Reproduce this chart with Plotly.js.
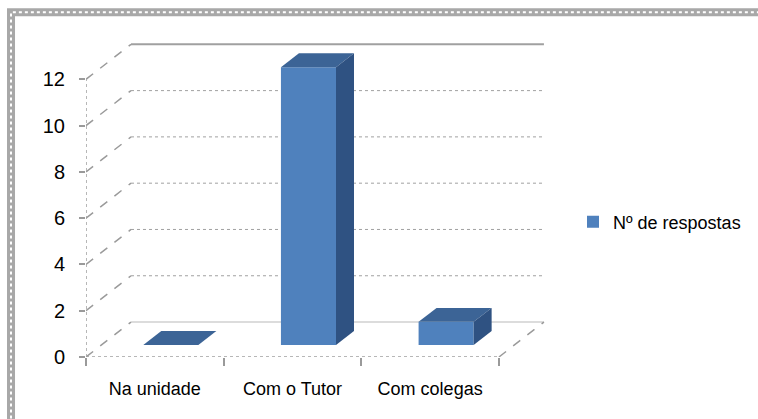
<!DOCTYPE html>
<html>
<head>
<meta charset="utf-8">
<script src="https://cdn.plot.ly/plotly-3.0.1.min.js"></script>
<style>html,body{margin:0;padding:0;background:#fff;}#chart{width:758px;height:419px;}</style>
</head>
<body>
<div id="chart"></div>
<script>
// ---- data ----
const categories = ['Na unidade', 'Com o Tutor', 'Com colegas'];
const values = [0, 12, 1];
const seriesName = 'Nº de respostas';
const yTickVals = [0, 2, 4, 6, 8, 10, 12];

// ---- geometry (pixels) ----
const W = 758, H = 419;
const frontLeftPx = 86, frontRightPx = 499;
const y0Px = 357.5, y12Px = 79.5;
const pxX = (frontRightPx - frontLeftPx) / categories.length;
const pxY = (y0Px - y12Px) / 12;
const xRange = [-0.5, 2.9], yRange = [0, 14];
const plotW = (xRange[1] - xRange[0]) * pxX;
const plotH = (yRange[1] - yRange[0]) * pxY;
const mL = frontLeftPx, mR = W - frontLeftPx - plotW, mB = H - y0Px, mT = H - mB - plotH;

// depth offsets converted to data units
const DX = 45 / pxX, DY = 35 / pxY;       // wall depth
const BX = 16 / pxX, BY = 12 / pxY;       // bar front face shift
const dX = 18 / pxX, dY = 14 / pxY;       // bar depth
const barW = 0.4;

const frontColor = '#4F81BD', topColor = '#3C6496', sideColor = '#2F5282';
const gridColor = '#A0A0A0';

function px2paperX(p) { return (p - mL) / plotW; }
function px2paperY(p) { return (y0Px - p) / plotH; }

const shapes = [];
const xL = -0.5, xR = categories.length - 0.5;
// back wall grid lines
yTickVals.forEach(v => {
  let line;
  if (v === 0) line = {color: '#D0D0D0', width: 1.5};
  else if (v === 12) line = {color: gridColor, width: 2};
  else line = {color: gridColor, width: 1, dash: 'dot'};
  shapes.push({type: 'line', xref: 'x', yref: 'y', layer: 'below',
    x0: xL + DX, x1: xR + DX, y0: v + DY, y1: v + DY, line});
  // left wall diagonals
  shapes.push({type: 'line', xref: 'x', yref: 'y', layer: 'below',
    x0: xL, x1: xL + DX, y0: v, y1: v + DY, line: {color: '#9A9A9A', width: 1.5, dash: 'dash'}});
});
// right floor diagonal
shapes.push({type: 'line', xref: 'x', yref: 'y', layer: 'below',
  x0: xR, x1: xR + DX, y0: 0, y1: DY, line: {color: '#9A9A9A', width: 1.5, dash: 'dash'}});
// front floor edge
shapes.push({type: 'line', xref: 'x', yref: 'y', layer: 'below',
  x0: xL, x1: xR, y0: 0, y1: 0, line: {color: '#A0A0A0', width: 1.5, dash: 'dot'}});
// vertical axis line
shapes.push({type: 'line', xref: 'x', yref: 'y', layer: 'below',
  x0: xL, x1: xL, y0: 0, y1: 12, line: {color: '#A0A0A0', width: 1.5, dash: 'dot'}});

// bar top and side faces
values.forEach((v, i) => {
  const x0 = i - barW / 2 + BX, x1 = i + barW / 2 + BX;
  const b = BY, t = BY + v;
  shapes.push({type: 'path', xref: 'x', yref: 'y', layer: 'above', line: {width: 0},
    fillcolor: topColor,
    path: `M${x0},${t} L${x1},${t} L${x1 + dX},${t + dY} L${x0 + dX},${t + dY} Z`});
  if (v > 0) {
    shapes.push({type: 'path', xref: 'x', yref: 'y', layer: 'above', line: {width: 0},
      fillcolor: sideColor,
      path: `M${x1},${b} L${x1},${t} L${x1 + dX},${t + dY} L${x1 + dX},${b + dY} Z`});
  }
});

// decorative border
const bx0 = px2paperX(11), bx1 = px2paperX(768), by0 = px2paperY(12.5), by1 = px2paperY(430);
shapes.push({type: 'rect', xref: 'paper', yref: 'paper', layer: 'above',
  x0: bx0, x1: bx1, y0: by1, y1: by0, line: {color: '#A8A8A8', width: 8}});
shapes.push({type: 'rect', xref: 'paper', yref: 'paper', layer: 'above',
  x0: bx0, x1: bx1, y0: by1, y1: by0, line: {color: '#FFFFFF', width: 2, dash: 'dot'}});

const font = {family: 'Liberation Sans, Arial, sans-serif', size: 18, color: '#000'};
const yFont = {family: 'Liberation Sans, Arial, sans-serif', size: 20, color: '#000'};
const legFont = {family: 'Liberation Sans, Arial, sans-serif', size: 18, color: '#000'};

const trace = {
  type: 'bar', name: seriesName, x: categories, y: values,
  base: BY, offset: -barW / 2 + BX, width: barW,
  marker: {color: frontColor, line: {width: 0}},
  hoverinfo: 'x+y'
};

const layout = {
  width: W, height: H,
  margin: {l: mL, r: mR, t: mT, b: mB, pad: 0, autoexpand: false},
  paper_bgcolor: '#fff', plot_bgcolor: 'rgba(0,0,0,0)',
  font,
  showlegend: true,
  legend: {xref: 'container', yref: 'container', x: 573 / W, y: 1 - 222 / H,
    xanchor: 'left', yanchor: 'middle',
    font: legFont, bgcolor: 'rgba(0,0,0,0)', itemwidth: 30},
  xaxis: {type: 'category', range: xRange, fixedrange: true, showgrid: false, zeroline: false,
    showline: false, ticks: 'outside', tickson: 'boundaries', ticklen: 8, tickwidth: 2,
    tickcolor: '#9A9A9A', ticklabelstandoff: 19, tickfont: font},
  yaxis: {range: yRange, fixedrange: true, showgrid: false, zeroline: false, showline: false,
    tickmode: 'array', tickvals: yTickVals, ticks: 'outside', ticklen: 6, tickwidth: 2,
    tickcolor: '#9A9A9A', ticklabelstandoff: 10, tickfont: yFont},
  shapes
};

Plotly.newPlot('chart', [trace], layout, {displayModeBar: false, staticPlot: true});
</script>
</body>
</html>
